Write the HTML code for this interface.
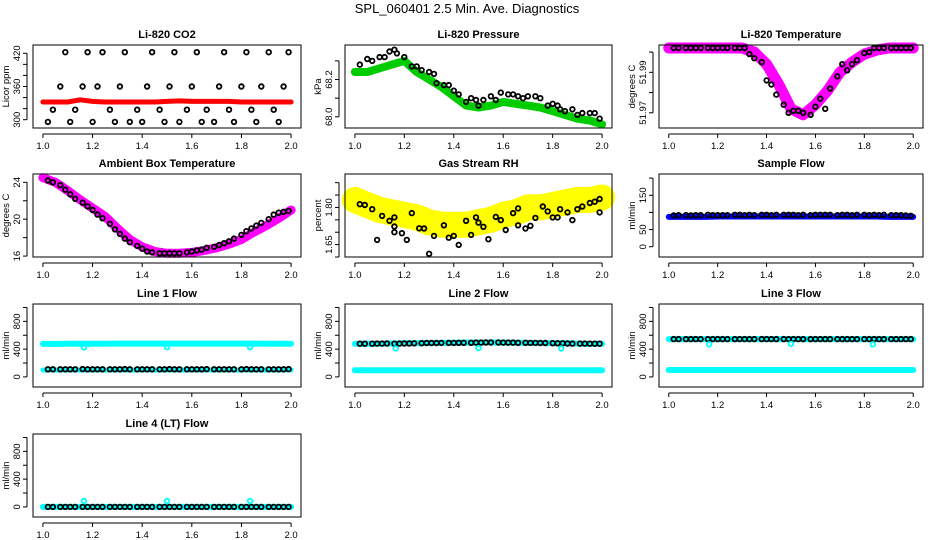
<!DOCTYPE html>
<html><head><meta charset="utf-8">
<style>
html,body{margin:0;padding:0;background:#fff;}
svg{display:block;font-family:"Liberation Sans",sans-serif;}
</style></head>
<body>
<svg id="chart" width="936" height="540" viewBox="0 0 936 540">
<text x="467" y="13" text-anchor="middle" font-size="13">SPL_060401  2.5 Min. Ave. Diagnostics</text>
</svg>
<script>
// ---- data ----
const xTicks = [1.0, 1.2, 1.4, 1.6, 1.8, 2.0];
const xTickLabels = ["1.0", "1.2", "1.4", "1.6", "1.8", "2.0"];
const blackX = [1.02,1.04,1.07,1.09,1.11,1.13,1.16,1.18,1.20,1.22,1.24,1.27,1.29,1.31,1.33,1.35,1.38,1.40,1.42,1.44,1.47,1.49,1.51,1.53,1.55,1.58,1.60,1.62,1.64,1.66,1.69,1.71,1.73,1.75,1.77,1.80,1.82,1.84,1.86,1.88,1.91,1.93,1.95,1.97,1.99];
const bandX = [1.0,1.05,1.1,1.15,1.2,1.25,1.3,1.35,1.4,1.45,1.5,1.55,1.6,1.65,1.7,1.75,1.8,1.85,1.9,1.95,2.0];

const co2Black = [296,318,360,422,296,318,360,422,296,360,422,318,296,360,422,296,318,296,360,422,318,296,360,422,296,318,360,422,296,318,296,360,422,318,296,360,422,318,296,360,422,318,296,360,422];
const co2Red = [332,332,332,336,333,332,332,332,332,332,333,334,333,333,333,333,332,332,332,332,332];

const presBlackX = [1.02,1.05,1.07,1.10,1.12,1.14,1.16,1.17,1.20,1.23,1.25,1.27,1.30,1.32,1.33,1.36,1.38,1.40,1.42,1.45,1.47,1.49,1.50,1.52,1.55,1.57,1.59,1.62,1.64,1.66,1.68,1.70,1.73,1.75,1.78,1.80,1.82,1.83,1.85,1.88,1.90,1.92,1.95,1.97,1.99];
const presBlack = [68.28,68.31,68.30,68.32,68.32,68.35,68.36,68.34,68.32,68.27,68.27,68.25,68.24,68.23,68.18,68.17,68.17,68.14,68.12,68.08,68.10,68.09,68.06,68.09,68.11,68.09,68.13,68.12,68.12,68.11,68.10,68.11,68.11,68.10,68.06,68.07,68.06,68.04,68.03,68.04,68.01,68.02,68.02,68.02,67.99];
const presGreen = [68.24,68.24,68.26,68.28,68.30,68.24,68.20,68.16,68.11,68.06,68.05,68.06,68.08,68.07,68.06,68.05,68.03,68.01,67.99,67.98,67.96];

const ltempBlack = [52.002,52.002,52.002,52.002,52.002,52.002,52.002,52.002,52.002,52.002,52.002,52.002,52.002,52.002,51.999,51.997,51.995,51.986,51.984,51.979,51.974,51.970,51.971,51.971,51.970,51.969,51.973,51.977,51.972,51.982,51.988,51.994,51.991,51.994,51.996,51.9995,52.000,52.002,52.002,52.002,52.002,52.002,52.002,52.002,52.002];
const ltempMag = [52.002,52.002,52.002,52.002,52.002,52.002,52.002,52.000,51.994,51.984,51.972,51.969,51.974,51.981,51.990,51.995,51.999,52.001,52.002,52.002,52.002];

const ambBlack = [24.2,24.0,23.7,23.2,22.7,22.2,21.8,21.4,21.0,20.5,20.1,19.5,18.9,18.4,17.9,17.5,17.1,16.8,16.5,16.4,16.3,16.3,16.3,16.3,16.3,16.4,16.5,16.6,16.7,16.9,17.0,17.2,17.4,17.6,17.9,18.3,18.7,19.0,19.3,19.6,20.0,20.5,20.7,20.8,20.9];
const ambMag = [24.5,24.0,23.1,22.1,21.2,20.3,19.0,17.8,17.0,16.5,16.3,16.3,16.4,16.6,16.9,17.3,17.8,18.6,19.3,20.1,21.0];

const rhBlackX = [1.02,1.04,1.07,1.09,1.11,1.14,1.16,1.16,1.16,1.19,1.21,1.23,1.26,1.28,1.30,1.32,1.36,1.38,1.40,1.42,1.45,1.47,1.49,1.50,1.52,1.54,1.57,1.59,1.61,1.64,1.66,1.66,1.69,1.71,1.73,1.76,1.78,1.80,1.82,1.83,1.86,1.88,1.90,1.92,1.95,1.97,1.99,1.99];
const rhBlack = [1.813,1.810,1.793,1.669,1.766,1.746,1.760,1.723,1.700,1.696,1.669,1.777,1.716,1.715,1.613,1.685,1.728,1.678,1.685,1.649,1.746,1.689,1.760,1.739,1.722,1.672,1.762,1.749,1.709,1.777,1.728,1.796,1.715,1.726,1.758,1.804,1.784,1.760,1.760,1.793,1.780,1.749,1.793,1.804,1.818,1.823,1.834,1.780];
const rhYellow = [1.83,1.81,1.79,1.78,1.77,1.76,1.74,1.73,1.73,1.73,1.74,1.75,1.77,1.78,1.80,1.80,1.81,1.82,1.83,1.83,1.84];

const sfBlack = [91,92,92,91,92,92,93,92,92,92,92,93,93,92,93,92,93,93,92,93,93,93,93,92,93,92,93,93,93,93,92,93,93,92,93,93,92,93,92,93,92,92,92,91,90];
const sfBlue = [87,87,87,87,88,88,88,88,88,88,88,88,88,88,88,88,88,88,87,87,87];

const l1Black = [110,110,110,110,110,110,112,110,110,110,110,110,110,110,112,110,110,110,110,110,110,110,112,110,110,110,110,110,110,112,110,110,110,110,110,110,112,110,110,110,110,110,110,110,112];
const l1CyanHi = [475,475,478,478,478,478,480,480,480,480,480,480,480,480,480,480,480,480,478,478,478];
const l1CyanLo = [100,100,100,100,100,100,100,100,100,100,100,100,100,100,100,100,100,100,100,100,100];
const l1OutX = [1.165,1.50,1.835];
const l1Out = [425,430,430];

const l2Black = [478,478,478,480,480,482,478,480,482,482,484,486,488,488,488,490,490,490,492,492,492,494,494,496,496,496,494,494,494,492,492,490,490,488,488,486,484,484,482,480,480,480,478,478,478];
const l2CyanHi = [478,478,480,482,484,486,488,490,492,494,496,496,494,492,490,488,486,484,480,478,478];
const l2CyanLo = [95,95,95,95,95,95,95,95,95,95,95,95,95,95,95,95,95,95,95,95,95];
const l2Out = [410,415,410];

const l3Black = [545,545,545,545,545,545,545,545,545,545,545,545,545,545,545,545,545,545,545,545,545,545,545,545,545,545,545,545,545,545,545,545,545,545,545,545,545,545,545,545,545,545,545,545,545];
const l3CyanHi = [545,545,545,545,545,545,545,545,545,545,545,545,545,545,545,545,545,545,545,545,545];
const l3CyanLo = [100,100,100,100,100,100,100,100,100,100,100,100,100,100,100,100,100,100,100,100,100];
const l3Out = [470,475,470];

const l4Black = [0,0,0,0,0,0,0,0,0,0,0,0,0,0,0,0,0,0,0,0,0,0,0,0,0,0,0,0,0,0,0,0,0,0,0,0,0,0,0,0,0,0,0,0,0];
const l4Cyan = [0,0,0,0,0,0,0,0,0,0,0,0,0,0,0,0,0,0,0,0,0];
const l4Out = [85,85,85];

const flowTicks = [0,200,400,600,800,1000];
const flowLabels = ["0","","400","","800",""];

// ---- drawing ----
const NS = "http://www.w3.org/2000/svg";
const svg = document.getElementById("chart");
function mk(tag, attrs, parent){
  const e = document.createElementNS(NS, tag);
  for (const k in attrs) e.setAttribute(k, attrs[k]);
  (parent || svg).appendChild(e);
  return e;
}
const colL = [33, 345, 659], colR = [301, 612, 923];
const rowT = [45, 174, 304, 434];
const PH = 83;

function panel(o){
  const g = mk("g", {});
  
  
  const L = colL[o.c], R = colR[o.c], T = rowT[o.r], B = T + PH;
  const xd0 = 0.96, xd1 = 2.04;
  const X = v => L + (v - xd0) / (xd1 - xd0) * (R - L);
  const Y = v => B - (v - o.y0) / (o.y1 - o.y0) * PH;
  const content = mk("g", {}, g);
  (o.bands || []).forEach(b => {
    const pts = b.xs.map((x, i) => X(x).toFixed(1) + "," + Y(b.ys[i]).toFixed(1)).join(" ");
    const pl = mk("polyline", {points: pts, fill: "none", stroke: b.color, "stroke-width": b.w, "stroke-linejoin": "round", "stroke-linecap": "round"}, content);
    
    
  });
  (o.circles || []).forEach(s => {
    s.xs.forEach((x, i) => {
      const c = mk("circle", {cx: X(x).toFixed(1), cy: Y(s.ys[i]).toFixed(1), r: s.r || 2.3, fill: "none", stroke: s.color, "stroke-width": 1.8}, content);
      
      
    });
  });
  const fr = mk("rect", {x: L, y: T, width: R - L, height: PH, fill: "none", stroke: "#000", "stroke-width": 1}, g);
  
  
  const t = mk("text", {x: (L + R) / 2, y: T - 7, "text-anchor": "middle", "font-size": 11, "font-weight": "bold"}, g);
  t.textContent = o.title;
  
  
  const xa = mk("g", {}, g);
  
  
  mk("line", {x1: X(xTicks[0]), x2: X(xTicks[xTicks.length - 1]), y1: B + 6, y2: B + 6, stroke: "#000"}, xa);
  xTicks.forEach((v, i) => {
    mk("line", {x1: X(v), x2: X(v), y1: B + 6, y2: B + 10, stroke: "#000"}, xa);
    const tl = mk("text", {x: X(v), y: B + 21, "text-anchor": "middle", "font-size": 9.5}, xa);
    tl.textContent = xTickLabels[i];
    
    
  });
  const ya = mk("g", {}, g);
  
  
  mk("line", {x1: L - 6, x2: L - 6, y1: Y(o.ticks[0]), y2: Y(o.ticks[o.ticks.length - 1]), stroke: "#000"}, ya);
  o.ticks.forEach((v, i) => {
    mk("line", {x1: L - 10, x2: L - 6, y1: Y(v), y2: Y(v), stroke: "#000"}, ya);
    if (o.labels[i]) {
      const yl = mk("text", {x: 0, y: 0, "text-anchor": "middle", "font-size": 9.5, transform: "translate(" + (L - 13) + "," + Y(v).toFixed(1) + ") rotate(-90)"}, ya);
      yl.textContent = o.labels[i];
      
      
    }
  });
  const yt = mk("text", {x: 0, y: 0, "text-anchor": "middle", "font-size": 9.5, transform: "translate(" + (L - 24) + "," + ((T + B) / 2) + ") rotate(-90)"}, g);
  yt.textContent = o.ytitle;
  
  
}

panel({name: "co2-panel", c: 0, r: 0, title: "Li-820 CO2", ytitle: "Licor ppm", y0: 285, y1: 435,
  ticks: [300,320,340,360,380,400,420], labels: ["300","","","360","","","420"],
  bands: [{name: "co2-red-series", xs: bandX, ys: co2Red, color: "#ff0000", w: 5}],
  circles: [{name: "co2-black-point", xs: blackX, ys: co2Black, color: "#000"}]});

panel({name: "pressure-panel", c: 1, r: 0, title: "Li-820 Pressure", ytitle: "kPa", y0: 67.94, y1: 68.385,
  ticks: [68.0,68.1,68.2,68.3], labels: ["68.0","","68.2",""],
  bands: [{name: "pressure-green-series", xs: bandX, ys: presGreen, color: "#00cc00", w: 8}],
  circles: [{name: "pressure-black-point", xs: presBlackX, ys: presBlack, color: "#000"}]});

panel({name: "li-temperature-panel", c: 2, r: 0, title: "Li-820 Temperature", ytitle: "degrees C", y0: 51.9625, y1: 52.0035,
  ticks: [51.97,51.98,51.99,52.00], labels: ["51.97","","51.99",""],
  bands: [{name: "li-temp-magenta-series", xs: bandX, ys: ltempMag, color: "#ff00ff", w: 11}],
  circles: [{name: "li-temp-black-point", xs: blackX, ys: ltempBlack, color: "#000"}]});

panel({name: "ambient-temp-panel", c: 0, r: 1, title: "Ambient Box Temperature", ytitle: "degrees C", y0: 15.9, y1: 24.9,
  ticks: [16,18,20,22,24], labels: ["16","","20","","24"],
  bands: [{name: "ambient-magenta-series", xs: bandX, ys: ambMag, color: "#ff00ff", w: 9}],
  circles: [{name: "ambient-black-point", xs: blackX, ys: ambBlack, color: "#000"}]});

panel({name: "rh-panel", c: 1, r: 1, title: "Gas Stream RH", ytitle: "percent", y0: 1.60, y1: 1.935,
  ticks: [1.60,1.65,1.70,1.75,1.80,1.85,1.90], labels: ["","1.65","","","1.80","",""],
  bands: [{name: "rh-yellow-series", xs: bandX, ys: rhYellow, color: "#ffff00", w: 26}],
  circles: [{name: "rh-black-point", xs: rhBlackX, ys: rhBlack, color: "#000"}]});

panel({name: "sample-flow-panel", c: 2, r: 1, title: "Sample Flow", ytitle: "ml/min", y0: -30, y1: 212,
  ticks: [0,50,100,150,200], labels: ["0","50","","150",""],
  bands: [{name: "sample-flow-blue-series", xs: bandX, ys: sfBlue, color: "#0000ff", w: 6}],
  circles: [{name: "sample-flow-black-point", xs: blackX, ys: sfBlack, color: "#000"}]});

panel({name: "line1-flow-panel", c: 0, r: 2, title: "Line 1 Flow", ytitle: "ml/min", y0: -145, y1: 1050,
  ticks: flowTicks, labels: flowLabels,
  bands: [{name: "line1-cyan-high-series", xs: bandX, ys: l1CyanHi, color: "#00ffff", w: 6},
          {name: "line1-cyan-low-series", xs: bandX, ys: l1CyanLo, color: "#00ffff", w: 5}],
  circles: [{name: "line1-black-point", xs: blackX, ys: l1Black, color: "#000"},
            {name: "line1-cyan-outlier", xs: l1OutX, ys: l1Out, color: "#00ffff"}]});

panel({name: "line2-flow-panel", c: 1, r: 2, title: "Line 2 Flow", ytitle: "ml/min", y0: -145, y1: 1050,
  ticks: flowTicks, labels: flowLabels,
  bands: [{name: "line2-cyan-high-series", xs: bandX, ys: l2CyanHi, color: "#00ffff", w: 6},
          {name: "line2-cyan-low-series", xs: bandX, ys: l2CyanLo, color: "#00ffff", w: 6}],
  circles: [{name: "line2-black-point", xs: blackX, ys: l2Black, color: "#000"},
            {name: "line2-cyan-outlier", xs: l1OutX, ys: l2Out, color: "#00ffff"}]});

panel({name: "line3-flow-panel", c: 2, r: 2, title: "Line 3 Flow", ytitle: "ml/min", y0: -145, y1: 1050,
  ticks: flowTicks, labels: flowLabels,
  bands: [{name: "line3-cyan-high-series", xs: bandX, ys: l3CyanHi, color: "#00ffff", w: 6},
          {name: "line3-cyan-low-series", xs: bandX, ys: l3CyanLo, color: "#00ffff", w: 6}],
  circles: [{name: "line3-black-point", xs: blackX, ys: l3Black, color: "#000"},
            {name: "line3-cyan-outlier", xs: l1OutX, ys: l3Out, color: "#00ffff"}]});

panel({name: "line4-flow-panel", c: 0, r: 3, title: "Line 4 (LT) Flow", ytitle: "ml/min", y0: -145, y1: 1050,
  ticks: flowTicks, labels: flowLabels,
  bands: [{name: "line4-cyan-series", xs: bandX, ys: l4Cyan, color: "#00ffff", w: 6}],
  circles: [{name: "line4-black-point", xs: blackX, ys: l4Black, color: "#000"},
            {name: "line4-cyan-outlier", xs: l1OutX, ys: l4Out, color: "#00ffff"}]});
</script>
</body></html>
